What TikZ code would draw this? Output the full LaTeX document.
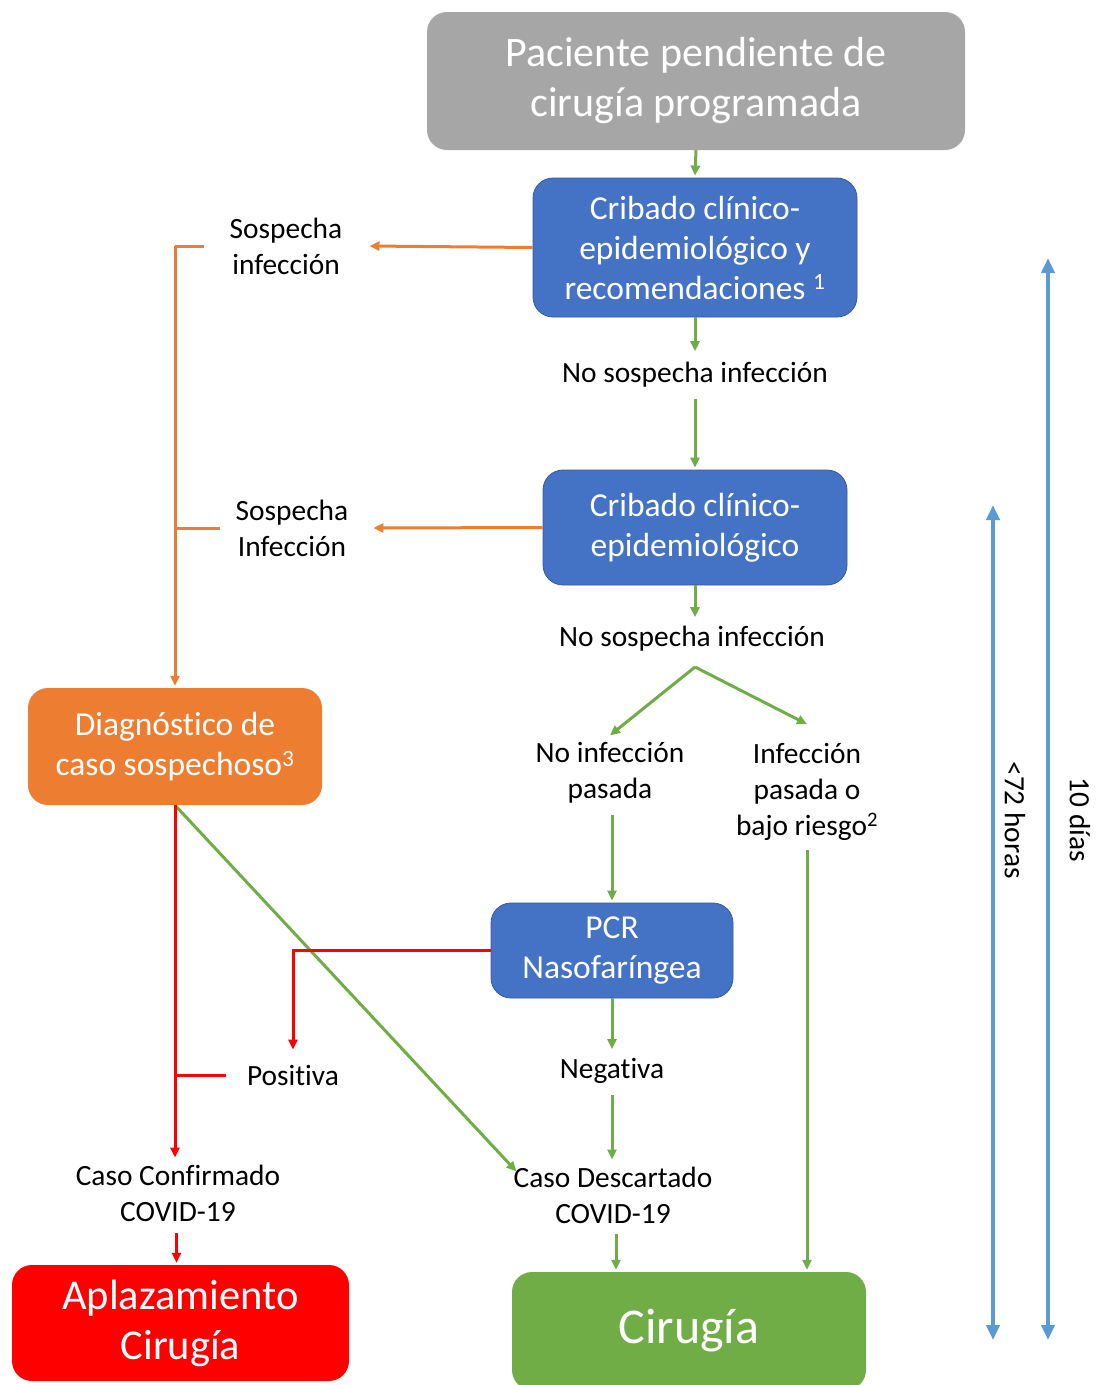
\documentclass[tikz,border=0pt]{standalone}
\usepackage{fontspec}
\setmainfont[Ligatures={NoCommon}]{Carlito}
\usetikzlibrary{arrows.meta,calc}
\definecolor{cblue}{HTML}{4472C4}
\definecolor{cgreen}{HTML}{70AD47}
\definecolor{corange}{HTML}{ED7D31}
\definecolor{cred}{HTML}{FF0000}
\definecolor{cgrey}{HTML}{A6A6A6}
\definecolor{clight}{HTML}{5B9BD5}
\begin{document}
\begin{tikzpicture}[x=1pt,y=-1pt,
  box/.style={rounded corners=20pt, text=white, align=center, inner sep=0pt},
  bluebox/.style={box, fill=cblue, draw=cblue!80!black, line width=0.8pt, font=\fontsize{33.5}{40}\selectfont},
  lbl/.style={align=center, text=black, font=\fontsize{29.4}{36}\selectfont, inner sep=1pt},
  tip/.style={-{Triangle[length=10pt,width=9pt]}},
  gline/.style={draw=cgreen, line width=3pt},
  garrow/.style={gline, tip},
  oline/.style={draw=corange, line width=3pt},
  oarrow/.style={oline, tip},
  rline/.style={draw=cred, line width=3pt},
  rarrow/.style={rline, tip},
  barrow/.style={draw=clight, line width=4.5pt, {Triangle[length=15pt,width=13pt]}-{Triangle[length=15pt,width=13pt]}},
]
\useasboundingbox (0,0) rectangle (1106,1385);

% boxes
\node[box, fill=cgrey, minimum width=538pt, minimum height=138pt, font=\fontsize{42}{50}\selectfont] (top) at (696,81) {Paciente pendiente de\\cirugía programada};
\node[bluebox, minimum width=324pt, minimum height=139pt] (b1) at (695,247.5) {Cribado clínico-\\epidemiológico y\\recomendaciones \textsuperscript{1}};
\node[bluebox, minimum width=304pt, minimum height=115pt] (b2) at (695,527.5) {Cribado clínico-\\epidemiológico};
\node[bluebox, minimum width=242pt, minimum height=95pt] (pcr) at (612,950.5) {PCR\\Nasofaríngea};
\node[box, fill=corange, minimum width=294pt, minimum height=117pt, font=\fontsize{33.5}{40}\selectfont] (diag) at (175,746.5) {Diagnóstico de\\caso sospechoso\textsuperscript{3}};
\node[box, fill=cred, minimum width=337pt, minimum height=116pt, font=\fontsize{42.5}{50}\selectfont] (apl) at (180.5,1323) {Aplazamiento\\Cirugía};
\node[box, fill=cgreen, minimum width=354pt, minimum height=118pt, font=\fontsize{50}{50}\selectfont] (cir) at (689,1331) {Cirugía};

% labels
\node[lbl] (ns1) at (695,375) {No sospecha infección};
\node[lbl] (ns2) at (692,639) {No sospecha infección};
\node[lbl] (si1) at (286,246) {Sospecha\\infección};
\node[lbl] (si2) at (292,528) {Sospecha\\Infección};
\node[lbl] (nip) at (610,773) {No infección\\pasada};
\node[lbl] (ipb) at (807,792) {Infección\\pasada o\\bajo riesgo\textsuperscript{2}};
\node[lbl] (neg) at (612,1071) {Negativa};
\node[lbl] (pos) at (293,1075) {Positiva};
\node[lbl] (ccf) at (178,1193) {Caso Confirmado\\COVID-19};
\node[lbl] (cds) at (613,1195) {Caso Descartado\\COVID-19};
\node[lbl, rotate=-90] (h72) at (1015,820) {<72 horas};
\node[lbl, rotate=-90] (d10) at (1080,820) {10 días};

% green flow
\draw[garrow] (top.south) -- ([yshift=2pt]b1.north);
\draw[garrow] (b1.south) -- ([yshift=10pt]ns1.north);
\draw[garrow] ([yshift=-10pt]ns1.south) -- ([yshift=2pt]b2.north);
\draw[garrow] (b2.south) -- ([yshift=8pt]b2.south |- ns2.north);
\coordinate (split) at (695,667);
\draw[garrow] (split) -- ([yshift=6pt]nip.north);
\draw[garrow] (split) -- ([yshift=18pt]ipb.north);
\draw[garrow] ([yshift=-10pt]pcr.north |- nip.south) -- ([yshift=2pt]pcr.north);
\draw[garrow] (pcr.south) -- ([yshift=8pt]neg.north);
\draw[garrow] ([yshift=-10pt]neg.south) -- ([yshift=6pt]neg.south |- cds.north);
\coordinate (cirin) at ([xshift=-73pt,yshift=2pt]cir.north);
\draw[garrow] ([yshift=-9pt]cirin |- cds.south) -- (cirin);
\draw[garrow] ([xshift=0pt,yshift=-8pt]ipb.south) -- ([xshift=118pt,yshift=2pt]cir.north);
\draw[garrow] (diag.south) -- ([xshift=4pt,yshift=-6pt]cds.north west);

% orange
\draw[oarrow] (b1.west) -- ([xshift=26pt]si1.east);
\draw[oarrow] (b2.west) -- ([xshift=24pt]si2.east);
\coordinate (k1) at (175,246);
\coordinate (k2) at (175,528);
\draw[oline] ([xshift=-25pt]si1.west) -- (k1);
\draw[oline] ([xshift=-15pt]si2.west) -- (k2);
\draw[oarrow] (k1) -- ([yshift=2pt]diag.north);

% red
\draw[rarrow] (diag.south) -- ([yshift=6pt]diag.south |- ccf.north);
\coordinate (kp) at (diag.south |- pos.west);
\draw[rline] (kp) -- ([xshift=-20pt]pos.west);
\draw[rarrow] (pcr.west) -| ([yshift=14pt]pos.north);
\coordinate (aplin) at ([xshift=-4pt,yshift=2pt]apl.north);
\draw[rarrow] ([yshift=-10pt]aplin |- ccf.south) -- (aplin);

% timing arrows
\coordinate (a1) at (993,505);
\coordinate (a2) at (993,1340);
\coordinate (c1) at (1048,258);
\coordinate (c2) at (1048,1340);
\draw[barrow] (a1) -- (a2);
\draw[barrow] (c1) -- (c2);
\end{tikzpicture}
\end{document}
